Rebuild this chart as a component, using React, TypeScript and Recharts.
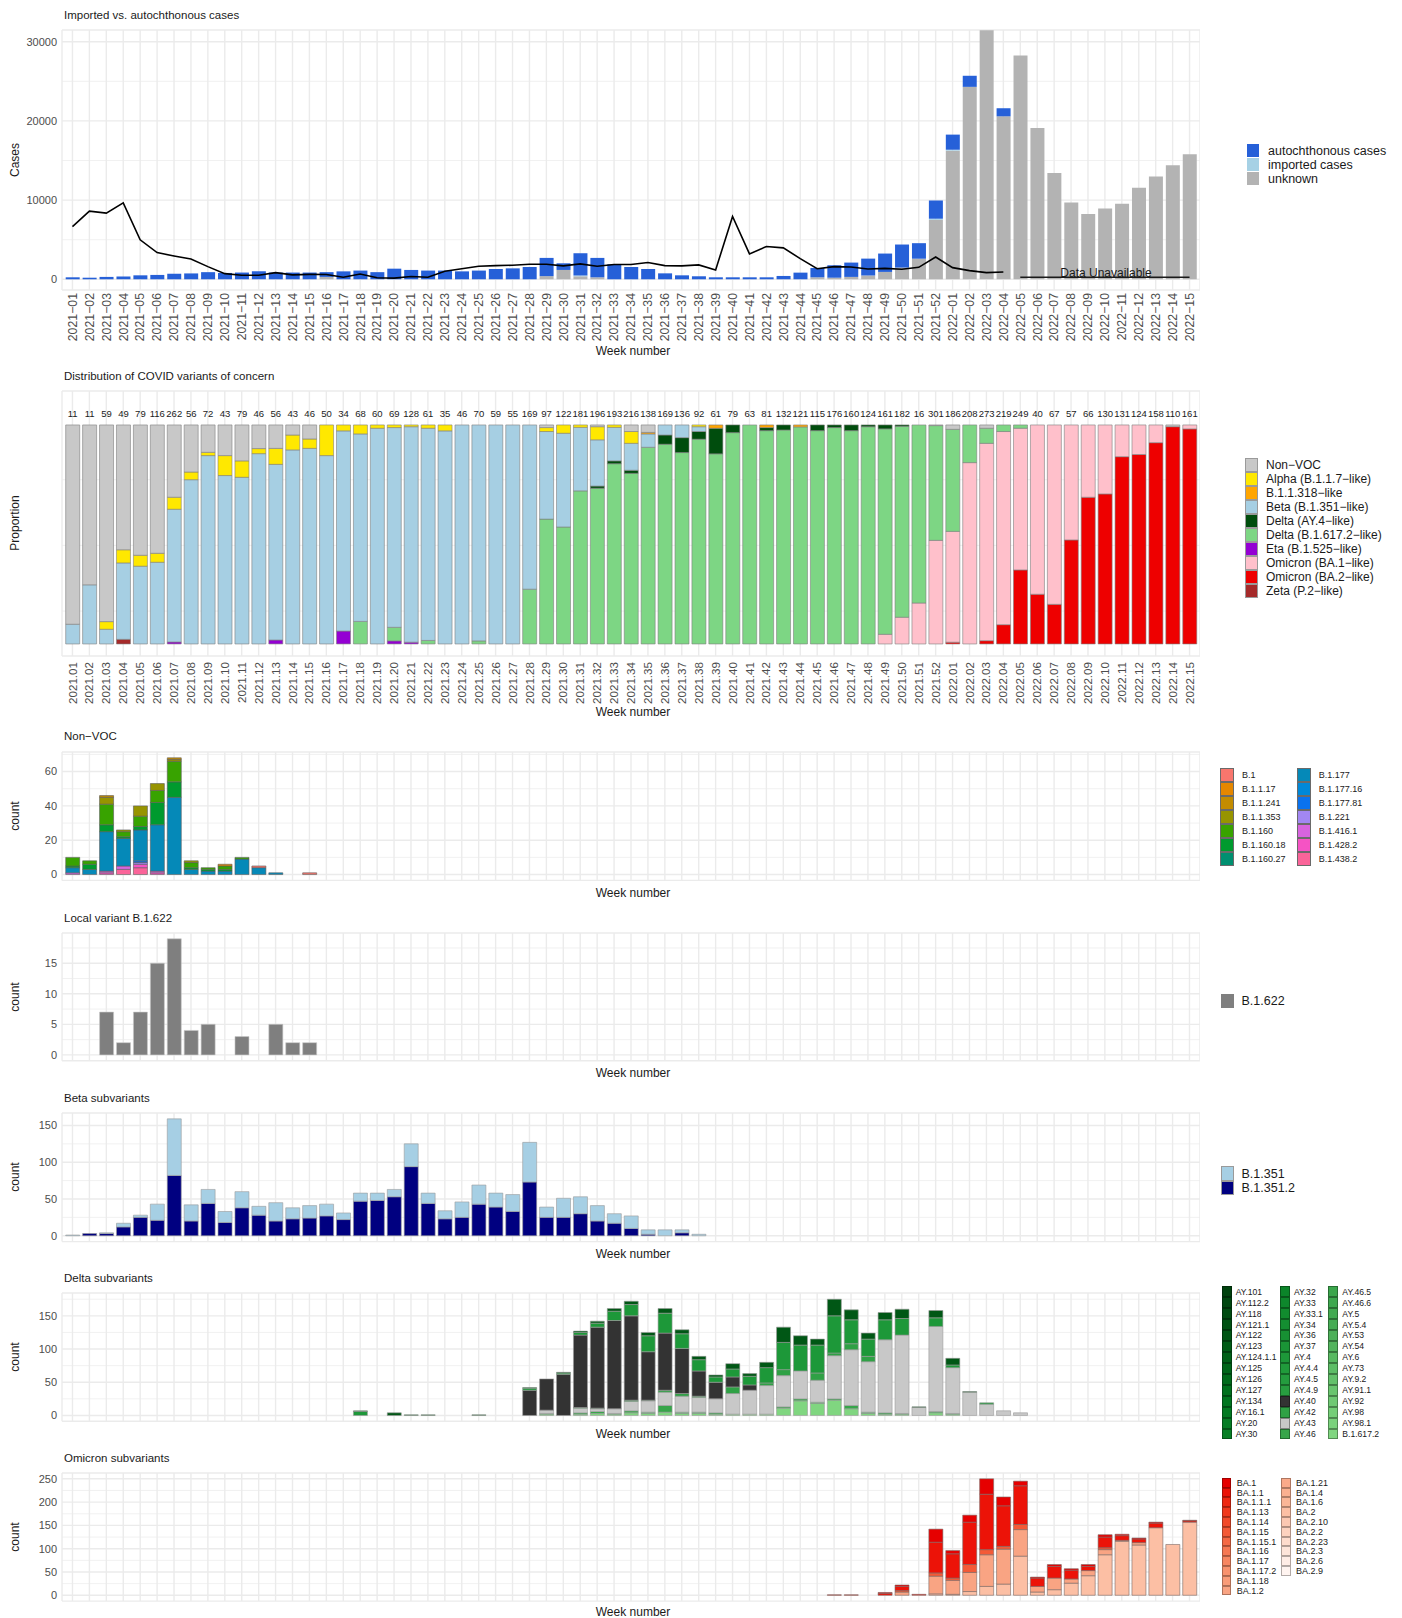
import React from 'react';
import { BarChart, Bar, ComposedChart, Line, XAxis, YAxis, CartesianGrid, LabelList } from 'recharts';

const FONT = '"Liberation Sans", Arial, Helvetica, sans-serif';
const GRID = '#EBEBEB';
const AXIS_TXT = '#4D4D4D';

// ---- week labels ----
const pad = (n: number) => String(n).padStart(2, '0');
const weeks = [
  ...Array.from({ length: 52 }, (_, i) => `2021-${pad(i + 1)}`),
  ...Array.from({ length: 15 }, (_, i) => `2022-${pad(i + 1)}`),
];

// ---- panel 1: imported vs autochthonous ----
const autochthonous = [
  250, 200, 300, 350, 500, 550, 700, 740, 900, 800,
  850, 1000, 850, 850, 850, 600, 1000, 1100, 900, 1340,
  1180, 1100, 1100, 1000, 1100, 1300, 1380, 1550, 2300, 840,
  2810, 2450, 1900, 1550, 1300, 750, 500, 380, 250, 250,
  250, 250, 420, 840, 1180, 1570, 1810, 2130, 2320, 2910,
  1960, 2300, 1910, 1400, 0, 1020, 0, 0, 0, 0,
  0, 0, 0, 0, 0, 0, 0,
];
const imported = [
  0, 0, 0, 0, 0, 0, 0, 0, 0, 0,
  0, 0, 0, 0, 0, 0, 0, 0, 0, 0,
  0, 0, 0, 0, 0, 0, 0, 0, 0, 0,
  100, 0, 0, 0, 0, 0, 0, 0, 0, 0,
  0, 0, 0, 0, 0, 0, 0, 0, 0, 0,
  0, 150, 120, 0, 0, 0, 0, 0, 0, 0,
  0, 0, 0, 0, 0, 0, 0,
];
const unknown = [
  0, 0, 0, 0, 0, 0, 0, 0, 0, 0,
  0, 0, 0, 0, 0, 300, 0, 0, 0, 0,
  0, 0, 0, 0, 0, 0, 0, 0, 400, 1180,
  380, 250, 0, 0, 0, 0, 0, 0, 0, 0,
  0, 0, 0, 0, 250, 200, 300, 480, 930, 1480,
  2600, 7500, 16240, 24300, 31450, 20580, 28270, 19110, 13420, 9700,
  8230, 8940, 9530, 11560, 12990, 14390, 15780,
];
const weeklyLine = [
  6650, 8600, 8350, 9650, 4980, 3370, 2950, 2570, 1600, 710,
  510, 510, 840, 560, 620, 600, 250, 670, 200, 150,
  360, 250, 1010, 1340, 1650, 1730, 1770, 1900, 1900, 1690,
  1940, 1650, 1860, 1860, 2110, 1730, 1690, 1820, 1180, 7930,
  3200, 4140, 3970, 2610, 1340, 1600, 1550, 1300, 1380, 1260,
  1510, 2820, 1470, 1090, 840, 920,
];
const unavailableWeeks = ['2022-05', '2022-06', '2022-07', '2022-08', '2022-09', '2022-10', '2022-11', '2022-12', '2022-13', '2022-14', '2022-15'];
const unavailableLevel = 250;

// ---- panel 2: variants of concern (percent of sequenced) ----
const sequenced = [
  11, 11, 59, 49, 79, 116, 262, 56, 72, 43,
  79, 46, 56, 43, 46, 50, 34, 68, 60, 69,
  128, 61, 35, 46, 70, 59, 55, 169, 97, 122,
  181, 196, 193, 216, 138, 169, 136, 92, 61, 79,
  63, 81, 132, 121, 115, 176, 160, 124, 161, 182,
  16, 301, 186, 208, 273, 219, 249, 40, 67, 57,
  66, 130, 131, 124, 158, 110, 161,
];
const vocNonVOC = [
  91, 73, 89.8, 57, 59.5, 58.6, 33, 21.5, 12.5, 14,
  16.4, 10.8, 10.7, 4.6, 6.4, 0, 0, 0, 0, 0,
  0, 0, 0, 0, 0, 0, 0, 0, 1.2, 0,
  0, 0.8, 0, 3, 3.4, 0, 0, 0, 0, 0,
  0, 0, 0, 0, 0, 0, 0, 0, 0, 0,
  0, 0.3, 2, 0, 1.5, 0, 0, 0, 0, 0,
  0, 0, 0, 0, 0, 0.8, 0,
];
const vocAlpha = [
  0, 0, 3.5, 6, 5, 4.1, 5.5, 3.5, 1.5, 9.1,
  7.5, 2.3, 7.3, 6.8, 4.3, 14, 2.7, 4.1, 1.5, 1.2,
  0.8, 1.5, 2.7, 0, 0, 0, 0, 0, 1.8, 3.8,
  1.1, 6, 1.1, 5.4, 0, 0, 0, 0.8, 0, 0,
  0, 0, 0, 0, 0, 0, 0, 0, 0, 0,
  0, 0, 0, 0, 0, 0, 0, 0, 0, 0,
  0, 0, 0, 0, 0, 0, 0,
];
const vocB11318 = [
  0, 0, 0, 0, 0, 0, 0, 0, 0, 0,
  0, 0, 0, 0, 0, 0, 0, 0, 0, 0,
  0, 0, 0, 0, 0, 0, 0, 0, 0, 0,
  0, 0, 0, 0, 0.7, 0, 0, 0, 1.5, 0,
  0, 1.2, 0, 0.9, 0, 0, 0, 0, 0, 0,
  0, 0, 0, 0, 0, 0, 0, 0, 0, 0,
  0, 0, 0, 0, 0, 0, 0,
];
const vocBeta = [
  9, 27, 6.7, 34.9, 35.5, 37.3, 60.6, 75, 86, 76.9,
  76.1, 86.9, 80.2, 88.6, 89.3, 86, 91.4, 85.6, 98.5, 91.2,
  98.4, 96.9, 97.3, 100, 98.6, 100, 100, 75, 40, 42.8,
  29, 21.1, 15.3, 12.3, 6.1, 4.6, 5.8, 2.2, 0, 0,
  0, 0, 0, 0, 0, 0, 0, 0, 0, 0,
  0, 0, 0, 0, 0, 0, 0, 0, 0, 0,
  0, 0, 0, 0, 0, 0, 0,
];
const vocDeltaAY4 = [
  0, 0, 0, 0, 0, 0, 0, 0, 0, 0,
  0, 0, 0, 0, 0, 0, 0, 0, 0, 0,
  0, 0, 0, 0, 0, 0, 0, 0, 0, 0,
  0, 1, 1.3, 1.4, 0, 4.2, 6.8, 3.5, 11.7, 3.5,
  0, 1.4, 2.3, 0, 2.6, 1.2, 2.6, 0.8, 1.8, 0.6,
  0, 0, 0, 0, 0, 0, 0, 0, 0, 0,
  0, 0, 0, 0, 0, 0, 0,
];
const vocDelta = [
  0, 0, 0, 0, 0, 0, 0, 0, 0, 0,
  0, 0, 0, 0, 0, 0, 0, 10.3, 0, 6.2,
  0, 1.6, 0, 0, 1.4, 0, 0, 25, 57, 53.4,
  69.9, 71.1, 82.3, 77.9, 89.8, 91.2, 87.4, 93.5, 86.8, 96.5,
  100, 97.4, 97.7, 99.1, 97.4, 98.8, 97.4, 99.2, 93.8, 87.2,
  81.3, 52.4, 46.6, 17.2, 6.9, 3, 1.5, 0, 0, 0,
  0, 0, 0, 0, 0, 0, 0,
];
const vocEta = [
  0, 0, 0, 0, 0, 0, 0.9, 0, 0, 0,
  0, 0, 1.8, 0, 0, 0, 5.9, 0, 0, 1.4,
  0.8, 0, 0, 0, 0, 0, 0, 0, 0, 0,
  0, 0, 0, 0, 0, 0, 0, 0, 0, 0,
  0, 0, 0, 0, 0, 0, 0, 0, 0, 0,
  0, 0, 0, 0, 0, 0, 0, 0, 0, 0,
  0, 0, 0, 0, 0, 0, 0,
];
const vocBA1 = [
  0, 0, 0, 0, 0, 0, 0, 0, 0, 0,
  0, 0, 0, 0, 0, 0, 0, 0, 0, 0,
  0, 0, 0, 0, 0, 0, 0, 0, 0, 0,
  0, 0, 0, 0, 0, 0, 0, 0, 0, 0,
  0, 0, 0, 0, 0, 0, 0, 0, 4.4, 12.2,
  18.7, 47.3, 50.6, 82.8, 90.1, 88.2, 64.7, 77.3, 81.9, 52.5,
  33, 31.5, 14.5, 13.5, 8.1, 0, 1.8,
];
const vocBA2 = [
  0, 0, 0, 0, 0, 0, 0, 0, 0, 0,
  0, 0, 0, 0, 0, 0, 0, 0, 0, 0,
  0, 0, 0, 0, 0, 0, 0, 0, 0, 0,
  0, 0, 0, 0, 0, 0, 0, 0, 0, 0,
  0, 0, 0, 0, 0, 0, 0, 0, 0, 0,
  0, 0, 0.8, 0, 1.5, 8.8, 33.8, 22.7, 18.1, 47.5,
  67, 68.5, 85.5, 86.5, 91.9, 99.2, 98.2,
];
const vocZeta = [
  0, 0, 0, 2.1, 0, 0, 0, 0, 0, 0,
  0, 0, 0, 0, 0, 0, 0, 0, 0, 0,
  0, 0, 0, 0, 0, 0, 0, 0, 0, 0,
  0, 0, 0, 0, 0, 0, 0, 0, 0, 0,
  0, 0, 0, 0, 0, 0, 0, 0, 0, 0,
  0, 0, 0, 0, 0, 0, 0, 0, 0, 0,
  0, 0, 0, 0, 0, 0, 0,
];

// ---- panel 3: Non-VOC lineages, weeks 2021-01..2021-16 ----
const nvB1 = [0, 0, 0, 0, 0, 0, 0, 0, 0, 0, 0, 1, 0, 0, 1, 0];
const nvB1117 = [0, 0, 0, 0, 0, 0, 0, 0, 0, 1, 0, 0, 0, 0, 0, 0];
const nvB11241 = [0, 0, 1, 0, 0, 0, 1, 0, 0, 0, 0, 0, 0, 0, 0, 0];
const nvB11353 = [0, 0, 4, 1, 6, 4, 1, 1, 0, 0, 0, 0, 0, 0, 0, 0];
const nvB1160 = [5, 2, 12, 3, 6, 7, 12, 3, 1, 2, 1, 0, 0, 0, 0, 0];
const nvB116018 = [1, 3, 4, 1, 2, 13, 9, 1, 1, 1, 0, 0, 0, 0, 0, 0];
const nvB116027 = [0, 0, 0, 0, 0, 0, 0, 0, 0, 0, 0, 0, 0, 0, 0, 0];
const nvB1177 = [3, 3, 23, 16, 18, 27, 45, 3, 2, 2, 9, 4, 1, 0, 0, 0];
const nvB117716 = [0, 0, 0, 0, 0, 0, 0, 0, 0, 0, 0, 0, 0, 0, 0, 0];
const nvB117781 = [0, 0, 0, 0, 1, 0, 0, 0, 0, 0, 0, 0, 0, 0, 0, 0];
const nvB1221 = [0, 0, 0, 0, 1, 0, 0, 0, 0, 0, 0, 0, 0, 0, 0, 0];
const nvB14161 = [1, 0, 1, 2, 0, 1, 0, 0, 0, 0, 0, 0, 0, 0, 0, 0];
const nvB14282 = [0, 0, 1, 0, 2, 1, 0, 0, 0, 0, 0, 0, 0, 0, 0, 0];
const nvB14382 = [0, 0, 0, 3, 4, 0, 0, 0, 0, 0, 0, 0, 0, 0, 0, 0];

// ---- panel 4: B.1.622, weeks 2021-01..2021-15 ----
const b1622 = [0, 0, 7, 2, 7, 15, 19, 4, 5, 0, 3, 0, 5, 2, 2];

// ---- panel 5: Beta subvariants, weeks 2021-01..2021-38 ----
const betaB1351 = [
  1, 0, 1, 5, 3, 22, 77, 22, 19, 15, 22, 12, 25, 15, 17, 16, 9, 11, 10, 10,
  31, 14, 11, 21, 26, 19, 23, 54, 14, 26, 23, 21, 13, 17, 6, 8, 4, 2,
];
const betaB13512 = [
  0, 3, 3, 12, 25, 21, 82, 20, 44, 18, 38, 28, 20, 23, 24, 27, 22, 47, 48, 53,
  94, 44, 23, 25, 43, 39, 33, 73, 25, 25, 30, 20, 17, 10, 2, 0, 4, 0,
];

// ---- panel 6: Delta subvariants, weeks 2021-18..2022-05 ----
const deltaFrom = '2021-18';
const dB16172 = [
  0, 0, 0, 0, 0, 0, 0, 0, 0, 0,
  0, 2, 0, 2, 3, 2, 4, 3, 5, 3,
  3, 2, 2, 2, 2, 11, 22, 18, 23, 10,
  3, 2, 2, 0, 4, 2, 0, 0, 0, 0,
];
const dAY46 = [
  0, 0, 0, 0, 0, 0, 0, 0, 0, 0,
  0, 1, 0, 2, 3, 1, 3, 2, 10, 2,
  2, 2, 0, 0, 0, 2, 3, 2, 2, 5,
  2, 2, 1, 0, 2, 1, 0, 0, 0, 0,
];
const dAY43 = [
  0, 0, 0, 0, 0, 0, 0, 0, 0, 0,
  0, 5, 0, 7, 4, 7, 14, 17, 20, 24,
  22, 21, 31, 36, 43, 47, 42, 33, 65, 84,
  76, 110, 118, 12, 128, 69, 35, 17, 7, 4,
];
const dAY42 = [
  0, 0, 0, 0, 0, 0, 0, 0, 0, 0,
  0, 0, 0, 1, 1, 0, 2, 1, 3, 4,
  2, 0, 10, 0, 4, 9, 0, 11, 4, 9,
  8, 0, 0, 0, 0, 0, 0, 0, 0, 0,
];
const dAY40 = [
  0, 0, 0, 0, 0, 0, 0, 0, 0, 0,
  38, 47, 62, 109, 122, 133, 127, 73, 86, 68,
  38, 25, 15, 8, 0, 0, 0, 0, 0, 0,
  0, 0, 0, 0, 0, 0, 0, 0, 0, 0,
];
const dAY4 = [
  6, 0, 0, 0, 0, 0, 0, 0, 0, 0,
  3, 0, 2, 4, 6, 14, 17, 24, 30, 22,
  17, 8, 12, 13, 23, 41, 39, 42, 56, 36,
  26, 30, 25, 0, 13, 4, 0, 2, 0, 0,
];
const dAY122 = [
  1, 0, 4, 1, 1, 0, 0, 1, 0, 0,
  1, 0, 1, 2, 3, 4, 5, 5, 7, 6,
  5, 3, 8, 4, 8, 23, 14, 9, 25, 15,
  9, 11, 14, 1, 11, 10, 1, 0, 0, 0,
];
const deltaNames = [
  'AY.101', 'AY.112.2', 'AY.118', 'AY.121.1', 'AY.122', 'AY.123', 'AY.124.1.1', 'AY.125', 'AY.126', 'AY.127', 'AY.134', 'AY.16.1', 'AY.20', 'AY.30',
  'AY.32', 'AY.33', 'AY.33.1', 'AY.34', 'AY.36', 'AY.37', 'AY.4', 'AY.4.4', 'AY.4.5', 'AY.4.9', 'AY.40', 'AY.42', 'AY.43', 'AY.46',
  'AY.46.5', 'AY.46.6', 'AY.5', 'AY.5.4', 'AY.53', 'AY.54', 'AY.6', 'AY.73', 'AY.9.2', 'AY.91.1', 'AY.92', 'AY.98', 'AY.98.1', 'B.1.617.2',
];

// ---- panel 7: Omicron subvariants, weeks 2021-46..2022-15 ----
const omicronFrom = '2021-46';
const oBA2 = [0, 0, 0, 0, 0, 0, 3, 2, 8, 19, 24, 84, 7, 12, 26, 42, 87, 116, 108, 145, 109, 157];
const oBA12 = [0, 0, 0, 0, 7, 0, 38, 30, 41, 68, 75, 57, 12, 25, 9, 11, 11, 2, 5, 0, 0, 0];
const oBA115 = [0, 0, 0, 0, 3, 0, 7, 5, 17, 11, 6, 11, 0, 0, 0, 0, 4, 0, 0, 0, 0, 0];
const oBA11 = [1, 1, 0, 4, 9, 2, 66, 52, 91, 119, 87, 83, 18, 25, 19, 9, 23, 10, 8, 10, 0, 3];
const oBA1 = [0, 0, 0, 2, 3, 0, 28, 7, 15, 33, 19, 10, 2, 4, 3, 4, 5, 3, 2, 2, 0, 1];
const omicronNames = [
  'BA.1', 'BA.1.1', 'BA.1.1.1', 'BA.1.13', 'BA.1.14', 'BA.1.15', 'BA.1.15.1', 'BA.1.16', 'BA.1.17', 'BA.1.17.2', 'BA.1.18', 'BA.1.2',
  'BA.1.21', 'BA.1.4', 'BA.1.6', 'BA.2', 'BA.2.10', 'BA.2.2', 'BA.2.23', 'BA.2.3', 'BA.2.6', 'BA.2.9',
];
const omicronColors = [
  '#E60000', '#EC1308', '#EF2812', '#F1391D', '#F24A2A', '#F45A37', '#F56945', '#F67853', '#F78661', '#F8926E', '#F99C79', '#F9A483',
  '#FAAA8A', '#FBB090', '#FBB697', '#FCBFA4', '#FCC8B2', '#FDD2BF', '#FEDCCD', '#FEE5DA', '#FFEDE6', '#FFF4F0',
];

// ---- colours ----
const hex = (c: string) => [1, 3, 5].map((i) => parseInt(c.slice(i, i + 2), 16));
const mix = (a: string, b: string, t: number) => {
  const A = hex(a), B = hex(b);
  return '#' + A.map((v, i) => Math.round(v + (B[i] - v) * t).toString(16).padStart(2, '0')).join('');
};
const greenStops = ['#00420E', '#00771F', '#1E9A3A', '#45AB53', '#80D680'];
const deltaColor: Record<string, string> = {};
deltaNames.forEach((n, i) => {
  const p = (i / (deltaNames.length - 1)) * (greenStops.length - 1);
  const k = Math.min(Math.floor(p), greenStops.length - 2);
  deltaColor[n] = mix(greenStops[k], greenStops[k + 1], p - k);
});
deltaColor['AY.40'] = '#333333';
deltaColor['AY.43'] = '#C8C8C8';
const omicronColor: Record<string, string> = {};
omicronNames.forEach((n, i) => (omicronColor[n] = omicronColors[i]));

// ---- helpers ----
function Txt({ x, y, children, size = 11.5, center = false, rotate = false, color = '#1A1A1A' }: any) {
  const tf = rotate ? 'translate(-50%,-50%) rotate(-90deg)' : center ? 'translate(-50%,-50%)' : 'translateY(-50%)';
  return (
    <div style={{ position: 'absolute', left: x, top: y, transform: tf, fontSize: size, lineHeight: 1, whiteSpace: 'nowrap', color }}>
      {children}
    </div>
  );
}

function LegendGrid({ items, colX, perCol, top, rowH, keyW, keyH, textDx, fontSize, border }: any) {
  return (
    <>
      {items.map((it: any, i: number) => {
        const c = Math.floor(i / perCol);
        const r = i % perCol;
        const y = top + r * rowH;
        const kh = keyH ?? rowH;
        return (
          <React.Fragment key={it.name}>
            <div
              style={{
                position: 'absolute', left: colX[c], top: y + (rowH - kh) / 2, width: keyW, height: kh,
                background: it.color, boxSizing: 'border-box', border: border ?? 'none',
              }}
            />
            <div
              style={{
                position: 'absolute', left: colX[c] + textDx, top: y + rowH / 2, transform: 'translateY(-50%)',
                fontSize, lineHeight: 1, whiteSpace: 'nowrap', color: '#1A1A1A',
              }}
            >
              {it.name}
            </div>
          </React.Fragment>
        );
      })}
    </>
  );
}

function grids(domain: number[], minors: number[]) {
  const gen = (p: any) => {
    const o = p && p.offset ? p.offset : p;
    return minors.map((v) => o.top + (o.height * (domain[1] - v)) / (domain[1] - domain[0]));
  };
  return [
    <CartesianGrid key="minor" vertical={false} stroke={GRID} strokeWidth={0.7} horizontalCoordinatesGenerator={gen} />,
    <CartesianGrid key="major" stroke={GRID} strokeWidth={1.4} />,
  ];
}

const RotTick = ({ x, y, payload, gap, size, sep }: any) => (
  <g transform={`translate(${x},${y})`}>
    <text transform="rotate(-90)" x={-gap} y={0} dy="0.35em" textAnchor="end" fontSize={size} fill={AXIS_TXT}>
      {String(payload.value).replace('-', sep)}
    </text>
  </g>
);
const NoTick = () => <g />;

const yAxisProps = {
  tickLine: false, axisLine: false, tickSize: 3, tickMargin: 2, width: 62, interval: 0 as const,
  tick: { fontSize: 11, fill: AXIS_TXT }, allowDataOverflow: true, type: 'number' as const,
};

function CountPanel({ plotTop, plotBottom, domain, majors, minors, rows, series, stroke }: any) {
  const top = plotTop - 4;
  const h = plotBottom - top + 4;
  return (
    <div style={{ position: 'absolute', left: 0, top }}>
      <BarChart width={1200} height={h} data={rows} margin={{ top: 4, right: 0, left: 0, bottom: 0 }} barCategoryGap="10%">
        {grids(domain, minors)}
        <XAxis dataKey="week" interval={0} tick={<NoTick />} tickLine={false} axisLine={false} height={4} padding={{ left: 2, right: 2 }} />
        <YAxis {...yAxisProps} domain={domain} ticks={majors} />
        {series.map((s: any) => (
          <Bar key={s.key} dataKey={s.key} stackId="a" fill={s.color} stroke={stroke} strokeWidth={0.6} isAnimationActive={false} />
        ))}
      </BarChart>
    </div>
  );
}

// ---- table rows built from the arrays ----
const p1Rows = weeks.map((w, i) => ({
  week: w,
  autochthonous: autochthonous[i],
  imported: imported[i],
  unknown: unknown[i],
  total: weeklyLine[i] ?? null,
  na: unavailableWeeks.includes(w) ? unavailableLevel : null,
}));

const vocSeries = [
  { key: 'zeta', name: 'Zeta (P.2−like)', color: '#A52A2A', values: vocZeta },
  { key: 'ba2', name: 'Omicron (BA.2−like)', color: '#EE0000', values: vocBA2 },
  { key: 'ba1', name: 'Omicron (BA.1−like)', color: '#FFC0CB', values: vocBA1 },
  { key: 'eta', name: 'Eta (B.1.525−like)', color: '#9400D3', values: vocEta },
  { key: 'delta', name: 'Delta (B.1.617.2−like)', color: '#7DD684', values: vocDelta },
  { key: 'ay4', name: 'Delta (AY.4−like)', color: '#004D0D', values: vocDeltaAY4 },
  { key: 'beta', name: 'Beta (B.1.351−like)', color: '#A6CFE3', values: vocBeta },
  { key: 'b11318', name: 'B.1.1.318−like', color: '#FFA500', values: vocB11318 },
  { key: 'alpha', name: 'Alpha (B.1.1.7−like)', color: '#FFE800', values: vocAlpha },
  { key: 'nonvoc', name: 'Non−VOC', color: '#C8C8C8', values: vocNonVOC },
];
const p2Rows = weeks.map((w, i) => {
  const sum = vocSeries.reduce((a, s) => a + s.values[i], 0);
  const row: any = { week: w, n: sequenced[i] };
  let whole = 0;
  vocSeries.forEach((s) => {
    row[s.key] = s.values[i] / sum;
    whole += row[s.key];
  });
  row.whole = whole; // full height of the stack, carries the sample-size label
  return row;
});

const nonVocSeries = [
  { key: 'B.1', color: '#F8766D', values: nvB1 },
  { key: 'B.1.1.17', color: '#E58700', values: nvB1117 },
  { key: 'B.1.1.241', color: '#C38C00', values: nvB11241 },
  { key: 'B.1.1.353', color: '#979400', values: nvB11353 },
  { key: 'B.1.160', color: '#38A300', values: nvB1160 },
  { key: 'B.1.160.18', color: '#009A2E', values: nvB116018 },
  { key: 'B.1.160.27', color: '#008F70', values: nvB116027 },
  { key: 'B.1.177', color: '#0589B8', values: nvB1177 },
  { key: 'B.1.177.16', color: '#0088D8', values: nvB117716 },
  { key: 'B.1.177.81', color: '#0A72EE', values: nvB117781 },
  { key: 'B.1.221', color: '#A287F2', values: nvB1221 },
  { key: 'B.1.416.1', color: '#D764DE', values: nvB14161 },
  { key: 'B.1.428.2', color: '#F553C4', values: nvB14282 },
  { key: 'B.1.438.2', color: '#FA6499', values: nvB14382 },
];
const p3Rows = weeks.map((w, i) => {
  const row: any = { week: w };
  nonVocSeries.forEach((s) => (row[s.key] = s.values[i] ?? 0));
  return row;
});

const p4Rows = weeks.map((w, i) => ({ week: w, 'B.1.622': b1622[i] ?? 0 }));

const p5Rows = weeks.map((w, i) => ({ week: w, 'B.1.351': betaB1351[i] ?? 0, 'B.1.351.2': betaB13512[i] ?? 0 }));

const deltaSeries = [
  { key: 'B.1.617.2', values: dB16172 },
  { key: 'AY.46', values: dAY46 },
  { key: 'AY.43', values: dAY43 },
  { key: 'AY.42', values: dAY42 },
  { key: 'AY.40', values: dAY40 },
  { key: 'AY.4', values: dAY4 },
  { key: 'AY.122', values: dAY122 },
];
const dStart = weeks.indexOf(deltaFrom);
const p6Rows = weeks.map((w, i) => {
  const row: any = { week: w };
  deltaSeries.forEach((s) => (row[s.key] = s.values[i - dStart] ?? 0));
  return row;
});

const omicronSeries = [
  { key: 'BA.2', values: oBA2 },
  { key: 'BA.1.2', values: oBA12 },
  { key: 'BA.1.15', values: oBA115 },
  { key: 'BA.1.1', values: oBA11 },
  { key: 'BA.1', values: oBA1 },
];
const oStart = weeks.indexOf(omicronFrom);
const p7Rows = weeks.map((w, i) => {
  const row: any = { week: w };
  omicronSeries.forEach((s) => (row[s.key] = s.values[i - oStart] ?? 0));
  return row;
});

export default function App() {
  const p1Domain = [-1353, 31480];
  const p2Domain = [-0.055, 1.155];
  return (
    <div style={{ position: 'absolute', left: 0, top: 0, width: 1402, height: 1618, background: '#fff', fontFamily: FONT, overflow: 'hidden' }}>
      {/* ---------- Panel 1 ---------- */}
      <Txt x={64} y={16}>Imported vs. autochthonous cases</Txt>
      <Txt x={15} y={160} rotate size={12}>Cases</Txt>
      <div style={{ position: 'absolute', left: 0, top: 0 }}>
        <ComposedChart width={1200} height={348} data={p1Rows} margin={{ top: 30, right: 0, left: 0, bottom: 0 }} barCategoryGap="10%">
          {grids(p1Domain, [5000, 15000, 25000])}
          <XAxis dataKey="week" interval={0} tickLine={false} axisLine={false} tickSize={0} tickMargin={0} height={58}
            padding={{ left: 2, right: 2 }} tick={<RotTick gap={3} size={12.3} sep="−" />} />
          <YAxis {...yAxisProps} domain={p1Domain} ticks={[0, 10000, 20000, 30000]} />
          <Bar dataKey="unknown" stackId="a" fill="#B3B3B3" isAnimationActive={false} />
          <Bar dataKey="imported" stackId="a" fill="#A6D1E5" isAnimationActive={false} />
          <Bar dataKey="autochthonous" stackId="a" fill="#2660D8" isAnimationActive={false} />
          <Line type="linear" dataKey="total" stroke="#000" strokeWidth={1.6} dot={false} isAnimationActive={false} />
          <Line type="linear" dataKey="na" stroke="#1A1A1A" strokeWidth={1.6} dot={false} isAnimationActive={false} />
        </ComposedChart>
      </div>
      <Txt x={1106} y={273} center size={12}>Data Unavailable</Txt>
      <Txt x={633} y={351} center size={12}>Week number</Txt>
      <LegendGrid
        items={[
          { name: 'autochthonous cases', color: '#2660D8' },
          { name: 'imported cases', color: '#A6D1E5' },
          { name: 'unknown', color: '#B3B3B3' },
        ]}
        colX={[1247]} perCol={3} top={143.5} rowH={14} keyW={12} keyH={13} textDx={21} fontSize={12.5}
      />

      {/* ---------- Panel 2 ---------- */}
      <Txt x={64} y={377}>Distribution of COVID variants of concern</Txt>
      <Txt x={15} y={523} rotate size={12}>Proportion</Txt>
      <div style={{ position: 'absolute', left: 0, top: 385 }}>
        <BarChart width={1200} height={323} data={p2Rows} margin={{ top: 6, right: 0, left: 0, bottom: 0 }} barCategoryGap="10%">
          {grids(p2Domain, [0.15, 0.45, 0.75])}
          <XAxis dataKey="week" interval={0} tickLine={false} axisLine={false} tickSize={0} tickMargin={0} height={52}
            padding={{ left: 2, right: 2 }} tick={<RotTick gap={6} size={11.6} sep="." />} />
          <XAxis xAxisId="lab" dataKey="week" hide padding={{ left: 2, right: 2 }} />
          <YAxis {...yAxisProps} domain={p2Domain} ticks={[0, 0.3, 0.6, 0.9]} tick={false} />
          {vocSeries.map((s) => (
            <Bar key={s.key} dataKey={s.key} stackId="a" fill={s.color} stroke="#808080" strokeWidth={0.6} isAnimationActive={false} />
          ))}
          <Bar xAxisId="lab" dataKey="whole" fill="none" stroke="none" isAnimationActive={false}>
            <LabelList dataKey="n" position="top" offset={8} fontSize={9.5} fill="#1A1A1A" />
          </Bar>
        </BarChart>
      </div>
      <Txt x={633} y={712} center size={12}>Week number</Txt>
      <LegendGrid
        items={[...vocSeries].reverse().map((s) => ({ name: s.name, color: s.color }))}
        colX={[1245]} perCol={10} top={457.7} rowH={14} keyW={13} textDx={21} fontSize={12}
        border="1px solid #9A9A9A"
      />

      {/* ---------- Panel 3 ---------- */}
      <Txt x={64} y={737}>Non−VOC</Txt>
      <Txt x={15} y={816} rotate size={12}>count</Txt>
      <CountPanel plotTop={752.1} plotBottom={880.5} domain={[-3.4, 71.4]} majors={[0, 20, 40, 60]} minors={[10, 30, 50, 70]}
        rows={p3Rows} series={[...nonVocSeries].reverse()} stroke="#5A5A5A" />
      <Txt x={633} y={893} center size={12}>Week number</Txt>
      <LegendGrid
        items={nonVocSeries.map((s) => ({ name: s.key, color: s.color }))}
        colX={[1220, 1296.7]} perCol={7} top={768.3} rowH={14} keyW={14} textDx={22} fontSize={9}
        border="1px solid #6A6A6A"
      />

      {/* ---------- Panel 4 ---------- */}
      <Txt x={64} y={919}>Local variant B.1.622</Txt>
      <Txt x={15} y={997} rotate size={12}>count</Txt>
      <CountPanel plotTop={933.1} plotBottom={1060.8} domain={[-0.95, 19.95]} majors={[0, 5, 10, 15]} minors={[2.5, 7.5, 12.5, 17.5]}
        rows={p4Rows} series={[{ key: 'B.1.622', color: '#7F7F7F' }]} stroke="#C8C8C8" />
      <Txt x={633} y={1073} center size={12}>Week number</Txt>
      <LegendGrid items={[{ name: 'B.1.622', color: '#7F7F7F' }]} colX={[1221]} perCol={1} top={994} rowH={14} keyW={13} textDx={20.5} fontSize={12.5} />

      {/* ---------- Panel 5 ---------- */}
      <Txt x={64} y={1099}>Beta subvariants</Txt>
      <Txt x={15} y={1177} rotate size={12}>count</Txt>
      <CountPanel plotTop={1112.5} plotBottom={1241.1} domain={[-7.95, 166.95]} majors={[0, 50, 100, 150]} minors={[25, 75, 125]}
        rows={p5Rows} series={[{ key: 'B.1.351.2', color: '#000080' }, { key: 'B.1.351', color: '#A6CFE4' }]} stroke="#9A9A9A" />
      <Txt x={633} y={1253.5} center size={12}>Week number</Txt>
      <LegendGrid
        items={[{ name: 'B.1.351', color: '#A6CFE4' }, { name: 'B.1.351.2', color: '#000080' }]}
        colX={[1221]} perCol={2} top={1166.4} rowH={14.4} keyW={13} textDx={20.5} fontSize={12.5} border="1px solid #9A9A9A"
      />

      {/* ---------- Panel 6 ---------- */}
      <Txt x={64} y={1279}>Delta subvariants</Txt>
      <Txt x={15} y={1357} rotate size={12}>count</Txt>
      <CountPanel plotTop={1293.2} plotBottom={1421.5} domain={[-8.8, 184.4]} majors={[0, 50, 100, 150]} minors={[25, 75, 125, 175]}
        rows={p6Rows} series={deltaSeries.map((s) => ({ key: s.key, color: deltaColor[s.key] }))} stroke="#9A9A9A" />
      <Txt x={633} y={1433.5} center size={12}>Week number</Txt>
      <LegendGrid
        items={deltaNames.map((n) => ({ name: n, color: deltaColor[n] }))}
        colX={[1221.7, 1280, 1328.3]} perCol={14} top={1286.2} rowH={10.95} keyW={10} textDx={14} fontSize={8.6}
        border="0.5px solid rgba(0,0,0,0.35)"
      />

      {/* ---------- Panel 7 ---------- */}
      <Txt x={64} y={1459}>Omicron subvariants</Txt>
      <Txt x={15} y={1537} rotate size={12}>count</Txt>
      <CountPanel plotTop={1473.3} plotBottom={1601.4} domain={[-12.5, 262.5]} majors={[0, 50, 100, 150, 200, 250]}
        minors={[25, 75, 125, 175, 225]} rows={p7Rows}
        series={omicronSeries.map((s) => ({ key: s.key, color: omicronColor[s.key] }))} stroke="#7A6A66" />
      <Txt x={633} y={1612} center size={12}>Week number</Txt>
      <LegendGrid
        items={omicronNames.map((n) => ({ name: n, color: omicronColor[n] }))}
        colX={[1221.7, 1281]} perCol={12} top={1477.8} rowH={9.8} keyW={9.5} textDx={15} fontSize={9}
        border="0.5px solid rgba(0,0,0,0.3)"
      />
    </div>
  );
}
